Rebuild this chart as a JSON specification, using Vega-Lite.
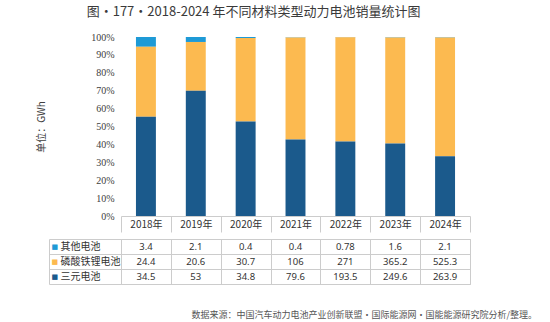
{
  "$schema": "https://vega.github.io/schema/vega-lite/v6.json",
  "padding": {"left": 36, "top": 6, "right": 5, "bottom": 4},
  "background": "white",
  "title": {"text": "图·177·2018-2024 年不同材料类型动力电池销量统计图", "anchor": "start", "frame": "bounds", "dx": 50, "font": "Noto Sans CJK SC", "fontSize": 13, "fontWeight": "normal", "color": "#3a3a3a", "offset": 13},
  "data": {"values": [
    {"year": "2018年", "series": "其他电池", "value": 3.4},
    {"year": "2019年", "series": "其他电池", "value": 2.1},
    {"year": "2020年", "series": "其他电池", "value": 0.4},
    {"year": "2021年", "series": "其他电池", "value": 0.4},
    {"year": "2022年", "series": "其他电池", "value": 0.78},
    {"year": "2023年", "series": "其他电池", "value": 1.6},
    {"year": "2024年", "series": "其他电池", "value": 2.1},
    {"year": "2018年", "series": "磷酸铁锂电池", "value": 24.4},
    {"year": "2019年", "series": "磷酸铁锂电池", "value": 20.6},
    {"year": "2020年", "series": "磷酸铁锂电池", "value": 30.7},
    {"year": "2021年", "series": "磷酸铁锂电池", "value": 106},
    {"year": "2022年", "series": "磷酸铁锂电池", "value": 271},
    {"year": "2023年", "series": "磷酸铁锂电池", "value": 365.2},
    {"year": "2024年", "series": "磷酸铁锂电池", "value": 525.3},
    {"year": "2018年", "series": "三元电池", "value": 34.5},
    {"year": "2019年", "series": "三元电池", "value": 53},
    {"year": "2020年", "series": "三元电池", "value": 34.8},
    {"year": "2021年", "series": "三元电池", "value": 79.6},
    {"year": "2022年", "series": "三元电池", "value": 193.5},
    {"year": "2023年", "series": "三元电池", "value": 249.6},
    {"year": "2024年", "series": "三元电池", "value": 263.9}
  ]},
  "spacing": 0,
  "vconcat": [
    {
      "width": 349,
      "height": 179,
      "view": {"stroke": null},
      "transform": [
        {"calculate": "indexof(['三元电池', '磷酸铁锂电池', '其他电池'], datum.series)", "as": "stackOrder"}
      ],
      "mark": {"type": "bar", "width": {"band": 0.4}},
      "encoding": {
        "x": {"field": "year", "type": "nominal", "sort": null,
          "scale": {"paddingInner": 0, "paddingOuter": 0},
          "axis": {"title": null, "labelAngle": 0, "tickBand": "extent", "tickSize": 16, "tickColor": "#cccccc", "domainColor": "#cccccc", "labelPadding": -13, "labelBaseline": "top", "labelFont": "Noto Sans CJK SC", "labelFontSize": 10, "labelColor": "#333333"}},
        "y": {"field": "value", "type": "quantitative", "stack": "normalize",
          "scale": {"domain": [0, 1]},
          "axis": {"format": "%", "values": [0, 0.1, 0.2, 0.3, 0.4, 0.5, 0.6, 0.7, 0.8, 0.9, 1], "grid": false, "domain": false, "ticks": false, "labelPadding": 7, "labelFont": "Liberation Serif", "labelFontSize": 10, "labelColor": "#404040",
            "title": "单位：GWh", "titleFont": "Noto Sans CJK SC", "titleFontSize": 10, "titleFontWeight": "normal", "titleColor": "#404040", "titlePadding": 44}},
        "color": {"field": "series", "type": "nominal",
          "scale": {"domain": ["其他电池", "磷酸铁锂电池", "三元电池"], "range": ["#1e9ad6", "#fcba50", "#1b5a8c"]},
          "legend": null},
        "order": {"field": "stackOrder", "type": "quantitative", "sort": "ascending"}
      }
    },
    {
      "width": 349,
      "height": 45,
      "view": {"stroke": "#cccccc"},
      "title": {"text": "数据来源：中国汽车动力电池产业创新联盟·国际能源网·国能能源研究院分析/整理。", "orient": "bottom", "anchor": "end", "frame": "group", "dx": 67, "offset": 26, "font": "Noto Sans CJK SC", "fontSize": 9, "fontWeight": "normal", "color": "#555555"},
      "layer": [
        {
          "mark": {"type": "text", "font": "Noto Sans", "fontSize": 9.5, "color": "#333333"},
          "encoding": {
            "x": {"field": "year", "type": "nominal", "sort": null,
              "scale": {"paddingInner": 0, "paddingOuter": 0},
              "axis": {"title": null, "labels": false, "ticks": false, "domain": false, "grid": true, "gridColor": "#cccccc", "tickBand": "extent"}},
            "y": {"field": "series", "type": "nominal",
              "scale": {"domain": ["其他电池", "磷酸铁锂电池", "三元电池"], "paddingInner": 0, "paddingOuter": 0},
              "axis": {"title": null, "grid": true, "gridColor": "#cccccc", "tickBand": "extent", "tickSize": 72, "tickColor": "#cccccc", "domain": false, "labelAlign": "left", "labelPadding": -11, "labelFont": "Noto Sans CJK SC", "labelFontSize": 10, "labelColor": "#333333"}},
            "text": {"field": "value", "type": "nominal"}
          }
        },
        {
          "mark": {"type": "text", "opacity": 0},
          "encoding": {
            "x": {"field": "year", "type": "nominal", "sort": null},
            "y": {"field": "series", "type": "nominal",
              "scale": {"domain": ["其他电池", "磷酸铁锂电池", "三元电池"], "paddingInner": 0, "paddingOuter": 0},
              "axis": {"orient": "left", "offset": 72, "title": null, "grid": false, "ticks": false, "tickSize": 0, "domain": true, "domainColor": "#cccccc", "labelAlign": "left", "labelPadding": -2, "labelExpr": "'■'", "labelFont": "DejaVu Sans", "labelFontSize": 7,
                "labelColor": {"condition": [{"test": "datum.value === '其他电池'", "value": "#1e9ad6"}, {"test": "datum.value === '三元电池'", "value": "#1b5a8c"}], "value": "#fcba50"}}},
            "text": {"field": "value", "type": "nominal"}
          }
        }
      ],
      "resolve": {"scale": {"y": "independent"}, "axis": {"y": "independent"}}
    }
  ]
}
